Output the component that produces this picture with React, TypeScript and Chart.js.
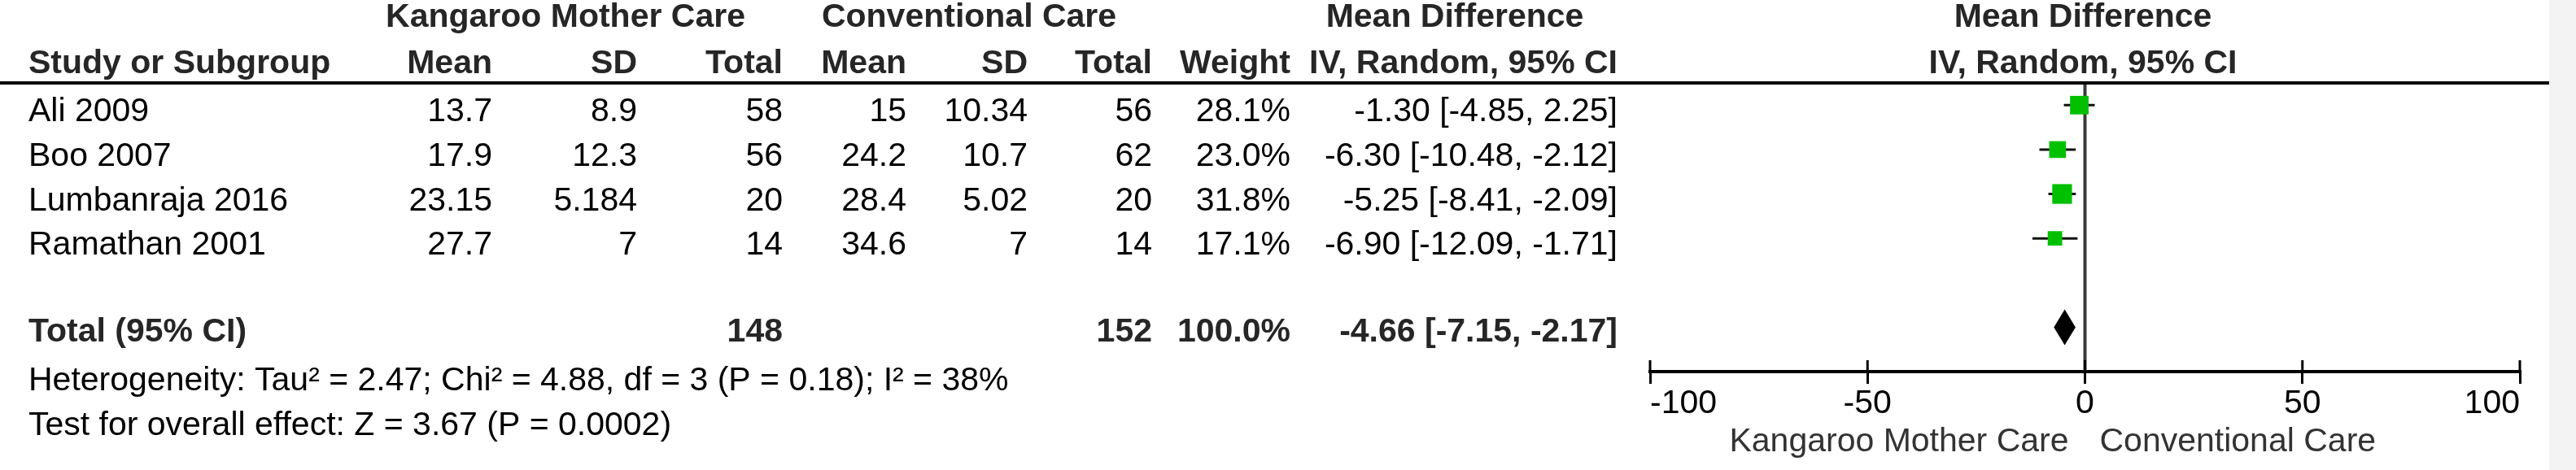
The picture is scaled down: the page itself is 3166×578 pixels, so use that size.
import React, { useEffect, useRef } from 'react';
import { Chart, registerables } from 'chart.js';

Chart.register(...registerables);

// ---------- data ----------
const studies = ['Ali 2009', 'Boo 2007', 'Lumbanraja 2016', 'Ramathan 2001'];
const kmcMean = [13.7, 17.9, 23.15, 27.7];
const kmcSD = [8.9, 12.3, 5.184, 7];
const kmcTotal = [58, 56, 20, 14];
const ccMean = [15, 24.2, 28.4, 34.6];
const ccSD = [10.34, 10.7, 5.02, 7];
const ccTotal = [56, 62, 20, 14];
const weights = [28.1, 23.0, 31.8, 17.1];
const md = [-1.3, -6.3, -5.25, -6.9];
const ciLow = [-4.85, -10.48, -8.41, -12.09];
const ciHigh = [2.25, -2.12, -2.09, -1.71];

const totalLabel = 'Total (95% CI)';
const totalRow = 5;
const totalKmc = 148;
const totalCc = 152;
const totalWeight = 100.0;
const pooledMd = -4.66;
const pooledLow = -7.15;
const pooledHigh = -2.17;

const xTicks = [-100, -50, 0, 50, 100];
const groupHeaders = ['Kangaroo Mother Care', 'Conventional Care', 'Mean Difference', 'Mean Difference'];
const columnHeaders = ['Study or Subgroup', 'Mean', 'SD', 'Total', 'Mean', 'SD', 'Total', 'Weight', 'IV, Random, 95% CI', 'IV, Random, 95% CI'];
const heterogeneityText = 'Heterogeneity: Tau² = 2.47; Chi² = 4.88, df = 3 (P = 0.18); I² = 38%';
const overallText = 'Test for overall effect: Z = 3.67 (P = 0.0002)';
const favoursLeft = 'Kangaroo Mother Care';
const favoursRight = 'Conventional Care';

// ---------- layout / style ----------
const W = 3166;
const H = 578;
const FONT = '"Liberation Sans", Arial, sans-serif';
const FS = 41;
const colStudy = 35;
const colRight = [605, 783, 962, 1114, 1263, 1416, 1586, 1988];
const groupCenters = [695, 1191, 1788, 2560];
const green = '#00c000';

const fmtCI = (m: number, lo: number, hi: number) => `${m.toFixed(2)} [${lo.toFixed(2)}, ${hi.toFixed(2)}]`;

const forestPlugin = {
  id: 'forest',
  beforeDraw(chart: any) {
    const { ctx } = chart;
    ctx.save();
    ctx.fillStyle = '#ffffff';
    ctx.fillRect(0, 0, W, H);
    ctx.fillStyle = '#f3f3f3';
    ctx.fillRect(3133, 0, W - 3133, H);
    ctx.restore();
  },
  beforeDatasetsDraw(chart: any) {
    const { ctx, chartArea } = chart;
    const x = chart.scales.x;
    const zx = x.getPixelForValue(0);
    ctx.save();
    ctx.strokeStyle = '#3a3a3a';
    ctx.lineWidth = 4;
    ctx.beginPath();
    ctx.moveTo(zx, chartArea.top);
    ctx.lineTo(zx, chartArea.bottom);
    ctx.stroke();
    ctx.restore();
  },
  afterDatasetsDraw(chart: any) {
    const { ctx } = chart;
    const x = chart.scales.x;
    const y = chart.scales.y;
    const cy = y.getPixelForValue(totalRow);
    const half = 22;
    ctx.save();
    ctx.fillStyle = '#000';
    ctx.beginPath();
    ctx.moveTo(x.getPixelForValue(pooledLow), cy);
    ctx.lineTo(x.getPixelForValue(pooledMd), cy - half);
    ctx.lineTo(x.getPixelForValue(pooledHigh), cy);
    ctx.lineTo(x.getPixelForValue(pooledMd), cy + half);
    ctx.closePath();
    ctx.fill();
    ctx.restore();
  },
  afterDraw(chart: any) {
    const { ctx, chartArea } = chart;
    const x = chart.scales.x;
    const y = chart.scales.y;
    const txt = (s: string, px: number, py: number, align: CanvasTextAlign, bold = false, color = '#000') => {
      ctx.font = `${bold ? 'bold ' : ''}${FS}px ${FONT}`;
      ctx.textAlign = align;
      ctx.textBaseline = 'alphabetic';
      ctx.fillStyle = color;
      ctx.fillText(s, px, py);
    };
    ctx.save();
    // header line
    ctx.strokeStyle = '#000';
    ctx.lineWidth = 4;
    ctx.beginPath();
    ctx.moveTo(0, chartArea.top);
    ctx.lineTo(3133, chartArea.top);
    ctx.stroke();

    // upward tick marks
    ctx.lineWidth = 3;
    xTicks.forEach((v) => {
      const px = x.getPixelForValue(v);
      ctx.beginPath();
      ctx.moveTo(px, chartArea.bottom - 14);
      ctx.lineTo(px, chartArea.bottom);
      ctx.stroke();
    });

    const hc = '#262626';
    // group headers
    groupHeaders.forEach((g, i) => txt(g, groupCenters[i], 33, 'center', true, hc));
    // column headers
    txt(columnHeaders[0], colStudy, 90, 'left', true, hc);
    for (let i = 1; i <= 8; i++) txt(columnHeaders[i], colRight[i - 1], 90, 'right', true, hc);
    txt(columnHeaders[9], groupCenters[3], 90, 'center', true, hc);

    // study rows
    studies.forEach((s, i) => {
      const by = y.getPixelForValue(i) + 20;
      const cells = [
        String(kmcMean[i]), String(kmcSD[i]), String(kmcTotal[i]),
        String(ccMean[i]), String(ccSD[i]), String(ccTotal[i]),
        `${weights[i].toFixed(1)}%`, fmtCI(md[i], ciLow[i], ciHigh[i]),
      ];
      txt(s, colStudy, by, 'left');
      cells.forEach((c, j) => txt(c, colRight[j], by, 'right'));
    });

    // total row
    const ty = y.getPixelForValue(totalRow) + 18;
    txt(totalLabel, colStudy, ty, 'left', true, hc);
    txt(String(totalKmc), colRight[2], ty, 'right', true, hc);
    txt(String(totalCc), colRight[5], ty, 'right', true, hc);
    txt(`${totalWeight.toFixed(1)}%`, colRight[6], ty, 'right', true, hc);
    txt(fmtCI(pooledMd, pooledLow, pooledHigh), colRight[7], ty, 'right', true, hc);

    // footer
    txt(heterogeneityText, colStudy, 480, 'left');
    txt(overallText, colStudy, 535, 'left');

    // favours labels
    const zx = x.getPixelForValue(0);
    txt(favoursLeft, zx - 20, 555, 'right', false, '#333');
    txt(favoursRight, zx + 18, 555, 'left', false, '#333');
    ctx.restore();
  },
};

export default function App() {
  const ref = useRef<HTMLCanvasElement>(null);
  useEffect(() => {
    document.body.style.margin = '0';
    const squareSide = (w: number) => 4.3 * Math.sqrt(w);
    const datasets: any[] = [
      {
        type: 'scatter',
        label: 'Mean difference',
        data: md.map((m, i) => ({ x: m, y: i })),
        pointStyle: 'rect',
        backgroundColor: green,
        borderColor: green,
        borderWidth: 0,
        pointRadius: (c: any) => squareSide(weights[c.dataIndex] ?? 20) / Math.SQRT2,
      },
      ...studies.map((s, i) => ({
        type: 'line',
        label: s,
        data: [
          { x: ciLow[i], y: i },
          { x: ciHigh[i], y: i },
        ],
        borderColor: '#111',
        borderWidth: 3,
        pointRadius: 0,
        fill: false,
      })),
    ];
    const chart = new Chart(ref.current!, {
      type: 'scatter',
      data: { datasets },
      options: {
        animation: false,
        responsive: false,
        maintainAspectRatio: false,
        devicePixelRatio: 1,
        layout: { padding: { left: 2028, right: W - 3097, top: 102, bottom: H - 457 - 80 } },
        plugins: { legend: { display: false }, tooltip: { enabled: false } },
        scales: {
          x: {
            type: 'linear',
            position: 'bottom',
            min: -100,
            max: 100,
            afterBuildTicks: (s: any) => {
              s.ticks = xTicks.map((v) => ({ value: v }));
            },
            afterFit: (s: any) => {
              s.height = 80;
            },
            ticks: {
              align: 'inner',
              autoSkip: false,
              maxRotation: 0,
              padding: 0,
              color: '#000',
              font: { family: FONT, size: FS },
              callback: (v: any) => String(v),
            },
            grid: { drawOnChartArea: false, drawTicks: true, tickLength: 15, lineWidth: 3, color: '#000' },
            border: { display: true, width: 4, color: '#000' },
          },
          y: {
            type: 'linear',
            min: -0.5,
            max: 6,
            reverse: true,
            display: false,
          },
        },
      } as any,
      plugins: [forestPlugin],
    });
    return () => chart.destroy();
  }, []);
  return (
    <div style={{ width: W, height: H }}>
      <canvas ref={ref} width={W} height={H} style={{ display: 'block', width: W, height: H }} />
    </div>
  );
}
